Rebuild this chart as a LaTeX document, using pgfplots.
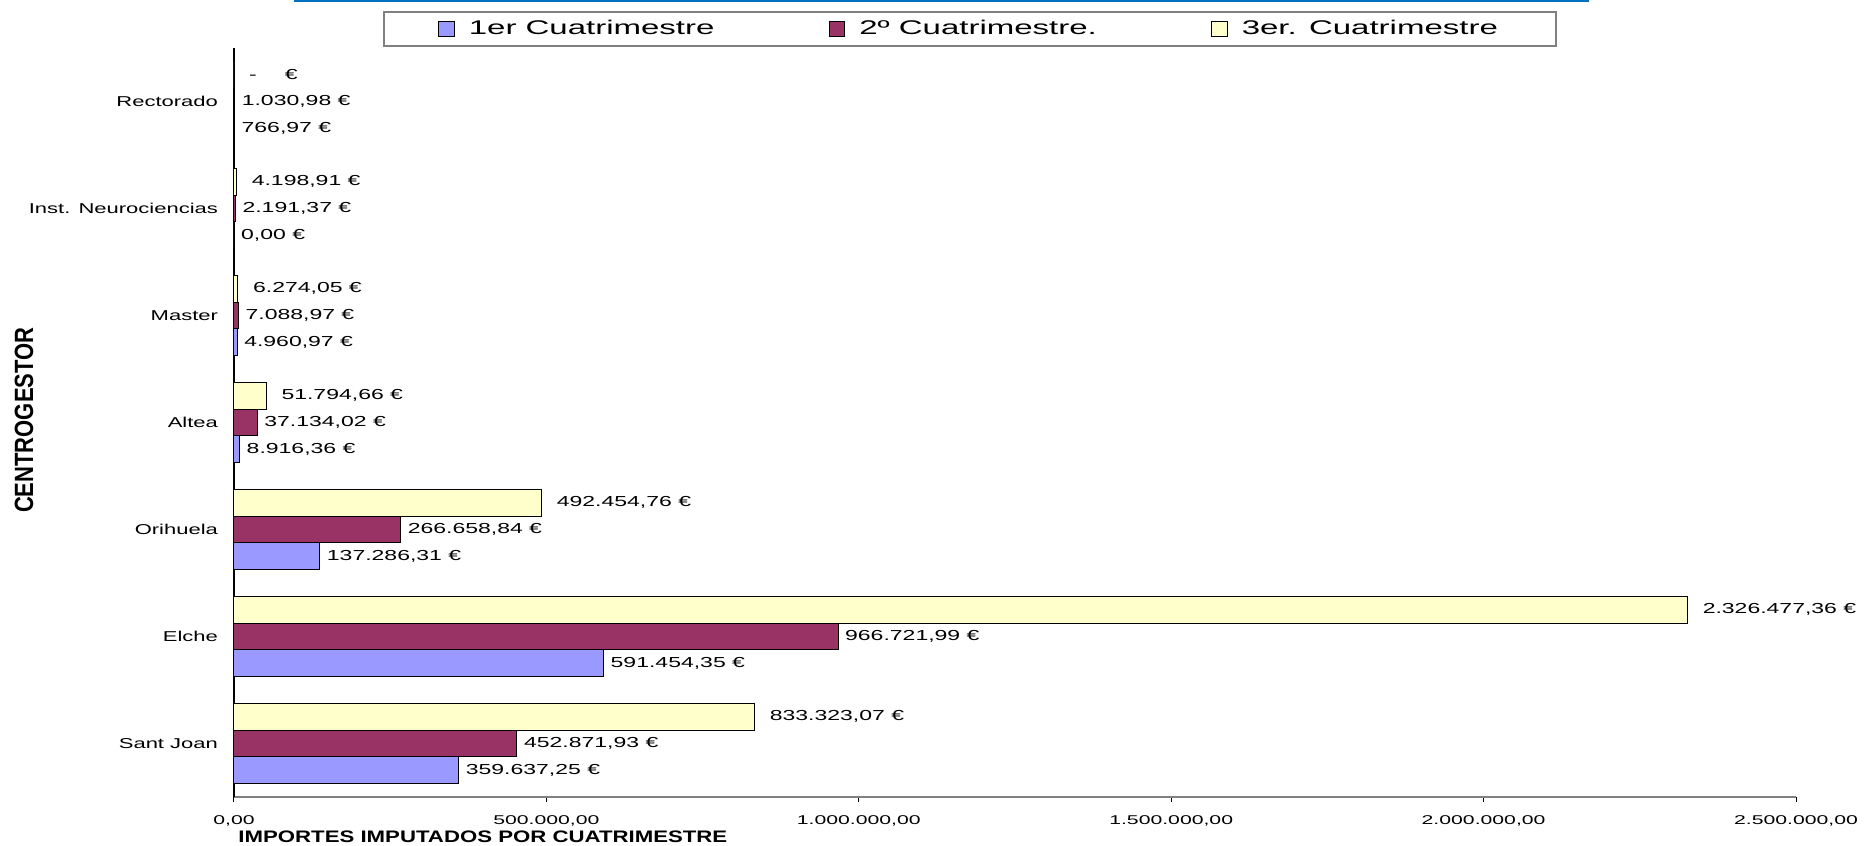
\documentclass[border=0pt]{standalone}
\usepackage{fontspec}
\setmainfont{Liberation Sans}
\usepackage{pgfplots}
\pgfplotsset{compat=1.18}
\definecolor{c1}{RGB}{153,153,255}
\definecolor{c2}{RGB}{153,51,102}
\definecolor{c3}{RGB}{255,255,204}
\definecolor{axgray}{RGB}{128,128,128}
\definecolor{topblue}{RGB}{0,112,192}
\newcommand{\sq}[1]{\scalebox{1}[0.6]{#1}}
\newcommand{\sqy}[1]{\scalebox{1}[0.65]{#1}}
\newcommand{\sqd}[1]{\scalebox{1}[0.63]{#1}}
\begin{document}
\begin{tikzpicture}
\useasboundingbox (-117pt,-24.5pt) rectangle (815.5pt,398.5pt);
\begin{axis}[
  scale only axis, width=781pt, height=374.5pt,
  clip=false,
  xbar, bar width=0.25,
  xmin=0, xmax=2500000, ymin=-0.5, ymax=6.5,
  axis x line*=bottom, axis y line*=left,
  x axis line style={axgray, line width=1.2pt, -},
  y axis line style={black, line width=0.6pt, -},
  tick align=outside,
  xtick={0,500000,1000000,1500000,2000000,2500000},
  scaled x ticks=false,
  xticklabel={\sq{\pgfmathprintnumber{\tick}}},
  xticklabel style={font=\fontsize{10.6}{12}\selectfont, inner sep=0pt, anchor=north, yshift=-6.5pt,
    /pgf/number format/.cd, fixed, fixed zerofill, precision=2, use comma, 1000 sep={.}, assume math mode=true},
  major tick length=2.5pt,
  minor tick length=3.5pt,
  xtick style={black, line width=0.5pt},
  ytick={0,1,2,3,4,5,6},
  yticklabels={\sqy{Sant Joan}, \sqy{Elche}, \sqy{Orihuela}, \sqy{Altea}, \sqy{Master}, \sqy{Inst. Neurociencias}, \sqy{Rectorado}},
  ytick style={draw=none},
  minor ytick={-0.5,0.5,1.5,2.5,3.5,4.5,5.5,6.5},
  minor y tick style={black, line width=0.5pt},
  yticklabel style={font=\fontsize{11}{13}\selectfont, xshift=-2pt},
  xlabel={\scalebox{1}[0.75]{\textbf{IMPORTES IMPUTADOS POR CUATRIMESTRE}}},
  xlabel style={at={(axis description cs:0.0026,-0.0534)}, anchor=west, inner sep=0pt, font=\fontsize{11.1}{13}\selectfont},
  ylabel={\scalebox{1}[1.2]{\textbf{CENTROGESTOR}}},
  ylabel style={at={(axis description cs:-0.1344,0.503)}, anchor=center, font=\fontsize{11}{13}\selectfont},
  point meta=explicit symbolic,
  nodes near coords={\sqd{\pgfplotspointmeta}},
  every node near coord/.append style={font=\fontsize{11.5}{13}\selectfont, black, anchor=west},
  legend columns=3,
  legend style={at={(axis description cs:0.0954,1.049)}, anchor=north west,
    draw=axgray, line width=1pt, font=\fontsize{16.5}{19}\selectfont,
    inner xsep=27pt, inner ysep=2pt,
    nodes={inner sep=2pt},
    /tikz/every odd column/.append style={column sep=5pt},
    /tikz/every even column/.append style={column sep=55pt}},
]
\addplot[fill=c1, draw=black, line width=0.5pt, bar shift=-0.25,
  legend image code/.code={\draw[fill=c1, draw=black, line width=0.6pt] (0pt,-3.9pt) rectangle (7.8pt,3.9pt);}]
coordinates {
(359637.25,0) [359.637,25 €]
(591454.35,1) [591.454,35 €]
(137286.31,2) [137.286,31 €]
(8916.36,3) [8.916,36 €]
(4960.97,4) [4.960,97 €]
(0,5) [0,00 €]
(766.97,6) [766,97 €]
};
\addplot[fill=c2, draw=black, line width=0.5pt, bar shift=0,
  legend image code/.code={\draw[fill=c2, draw=black, line width=0.6pt] (0pt,-3.9pt) rectangle (7.8pt,3.9pt);}]
coordinates {
(452871.93,0) [452.871,93 €]
(966721.99,1) [966.721,99 €]
(266658.84,2) [266.658,84 €]
(37134.02,3) [37.134,02 €]
(7088.97,4) [7.088,97 €]
(2191.37,5) [2.191,37 €]
(1030.98,6) [1.030,98 €]
};
\addplot[fill=c3, draw=black, line width=0.5pt, bar shift=0.25,
  every node near coord/.append style={xshift=4pt},
  legend image code/.code={\draw[fill=c3, draw=black, line width=0.6pt] (0pt,-3.9pt) rectangle (7.8pt,3.9pt);}]
coordinates {
(833323.07,0) [833.323,07 €]
(2326477.36,1) [2.326.477,36 €]
(492454.76,2) [492.454,76 €]
(51794.66,3) [51.794,66 €]
(6274.05,4) [6.274,05 €]
(4198.91,5) [4.198,91 €]
(0,6) [-\hskip 14pt\relax €]
};
\legend{\sq{1er Cuatrimestre}, \sq{2º Cuatrimestre.}, \sq{3er. Cuatrimestre}}
\draw[topblue, line width=1.2pt] (axis description cs:0.0384,1.0628) -- (axis description cs:0.8675,1.0628);
\end{axis}
\end{tikzpicture}
\end{document}
